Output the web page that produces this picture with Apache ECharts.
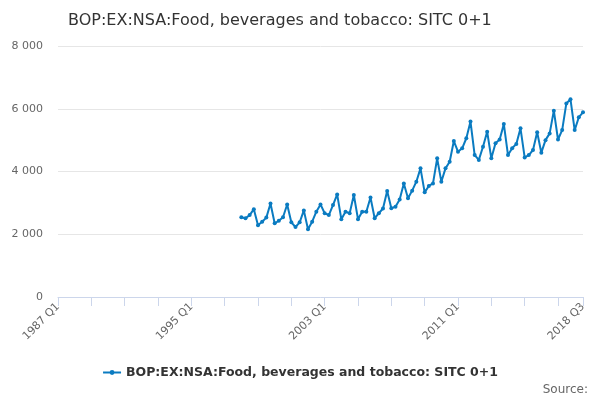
<!DOCTYPE html>
<html>
<head>
<meta charset="utf-8">
<script src="https://cdn.jsdelivr.net/npm/echarts@6/dist/echarts.min.js"></script>
<style>
  html, body { margin: 0; padding: 0; background: #fff; }
  #chart { width: 600px; height: 400px; }
</style>
</head>
<body>
<div id="chart"></div>
<script>
// 季度类目：1987 Q1 ~ 2018 Q3
const quarters = [];
for (let y = 1987; y <= 2018; y++) {
  for (let q = 1; q <= 4; q++) {
    if (y === 2018 && q > 3) break;
    quarters.push(y + ' Q' + q);
  }
}

const startQuarter = '1998 Q1';
const observed = [
  2540, 2510, 2610, 2800,
  2290, 2400, 2530, 2980,
  2350, 2430, 2540, 2950,
  2380, 2230, 2380, 2760,
  2160, 2400, 2720, 2950,
  2670, 2610, 2930, 3270,
  2480, 2720, 2670, 3250,
  2480, 2720, 2720, 3170,
  2510, 2670, 2820, 3380,
  2830, 2880, 3110, 3620,
  3145, 3390, 3675, 4100,
  3335, 3540, 3620, 4420,
  3675, 4100, 4310, 4970,
  4630, 4740, 5060, 5590,
  4525, 4370, 4790, 5270,
  4420, 4900, 5020, 5510,
  4525, 4740, 4880, 5375,
  4450, 4525, 4685, 5250,
  4600, 5000, 5215, 5940,
  5020, 5320, 6170, 6300,
  5320, 5730, 5885
];

const seriesName = 'BOP:EX:NSA:Food, beverages and tobacco: SITC 0+1';
const titleText = 'BOP:EX:NSA:Food, beverages and tobacco: SITC 0+1';

const startIdx = quarters.indexOf(startQuarter);
const values = quarters.map((q, i) =>
  i < startIdx ? null : observed[i - startIdx]);

const lastIdx = quarters.length - 1;
const font = 'DejaVu Sans';
const lineColor = '#0a7bc1';

const chart = echarts.init(document.getElementById('chart'));
chart.setOption({
  animation: false,
  textStyle: { fontFamily: font },
  title: {
    text: titleText,
    left: 63,
    top: 8,
    textStyle: { fontSize: 16, fontWeight: 'normal', color: '#333', fontFamily: font }
  },
  legend: {
    bottom: 16,
    left: 'center',
    itemWidth: 18,
    itemHeight: 6,
    itemGap: 6,
    textStyle: { fontSize: 12.5, fontWeight: 'bold', color: '#333', fontFamily: font },
    data: [seriesName]
  },
  graphic: [{
    type: 'text',
    right: 12,
    bottom: 4,
    style: { text: 'Source:', fontSize: 12, fill: '#666', fontFamily: font }
  }],
  grid: { left: 58, right: 17, top: 46, bottom: 103 },
  xAxis: {
    type: 'category',
    data: quarters,
    boundaryGap: false,
    axisLine: { lineStyle: { color: '#ccd6eb' } },
    axisTick: {
      length: 9,
      lineStyle: { color: '#ccd6eb' },
      interval: (i) => i % 8 === 0 || i === lastIdx
    },
    axisLabel: {
      rotate: 45,
      color: '#666',
      fontSize: 11,
      margin: 8,
      interval: (i) => i % 32 === 0 || i === lastIdx
    },
    splitLine: { show: false }
  },
  yAxis: {
    type: 'value',
    min: 0,
    max: 8000,
    interval: 2000,
    axisLine: { show: false },
    axisTick: { show: false },
    axisLabel: {
      color: '#666',
      fontSize: 11,
      margin: 15,
      formatter: (v) => String(v).replace(/\B(?=(\d{3})+(?!\d))/g, ' ')
    },
    splitLine: { lineStyle: { color: '#e6e6e6' } }
  },
  series: [{
    name: seriesName,
    type: 'line',
    data: values,
    connectNulls: false,
    symbol: 'circle',
    symbolSize: 4,
    showAllSymbol: true,
    itemStyle: { color: lineColor },
    lineStyle: { width: 2, color: lineColor }
  }]
});
</script>
</body>
</html>
